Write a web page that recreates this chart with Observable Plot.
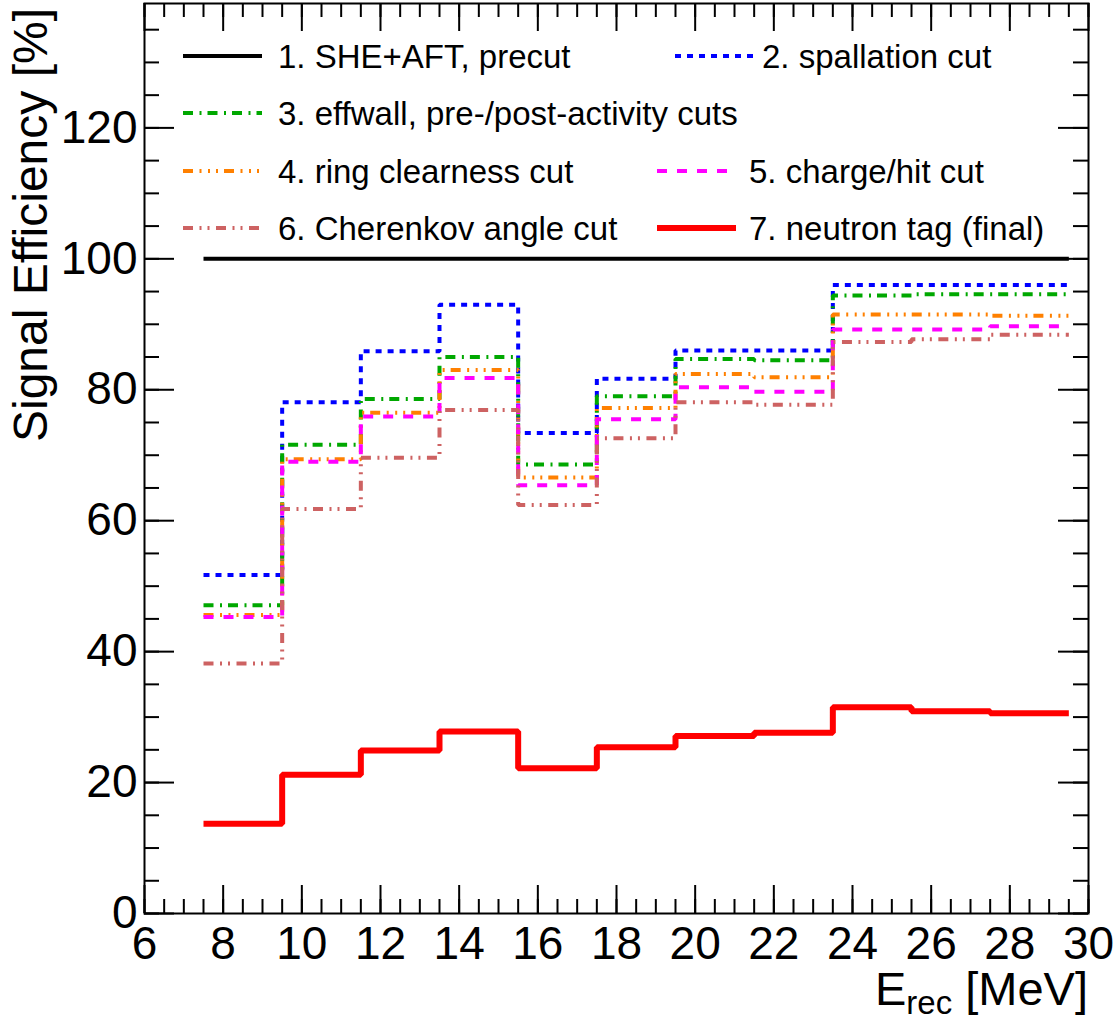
<!DOCTYPE html>
<html><head><meta charset="utf-8">
<script src="https://cdn.jsdelivr.net/npm/d3@7"></script>
<script src="https://cdn.jsdelivr.net/npm/@observablehq/plot@0.6"></script>
<style>body{margin:0;background:#fff} svg{display:block}</style>
</head><body><div id="chart"></div>
<script>
// ---- data ----
const binEdges = [7.5, 9.5, 11.5, 13.5, 15.5, 17.5, 19.5, 21.5, 23.5, 25.5, 27.5, 29.5];
const precut        = [100, 100, 100, 100, 100, 100, 100, 100, 100, 100, 100];
const spallation    = [51.7, 78.1, 85.9, 93.0, 73.4, 81.7, 86.0, 86.0, 96.0, 96.0, 96.0];
const effwall       = [47.1, 71.6, 78.6, 85.0, 68.6, 79.0, 84.7, 84.5, 94.4, 94.6, 94.6];
const ringClearness = [45.6, 69.4, 76.5, 83.0, 66.6, 77.2, 82.4, 81.9, 91.5, 91.5, 91.3];
const chargeHit     = [45.3, 69.0, 75.9, 81.8, 65.4, 75.5, 80.4, 79.7, 89.2, 89.2, 89.7];
const cherenkov     = [38.2, 61.8, 69.6, 76.9, 62.4, 72.6, 78.1, 77.7, 87.3, 87.7, 88.4];
const neutronTag    = [13.7, 21.2, 24.9, 27.8, 22.2, 25.4, 27.1, 27.6, 31.5, 30.9, 30.6];
const seriesLabels = [
  "1. SHE+AFT, precut", "2. spallation cut", "3. effwall, pre-/post-activity cuts",
  "4. ring clearness cut", "5. charge/hit cut", "6. Cherenkov angle cut", "7. neutron tag (final)"
];
const xTicks = [6, 8, 10, 12, 14, 16, 18, 20, 22, 24, 26, 28, 30];
const yTicks = [0, 20, 40, 60, 80, 100, 120];
const xTitle = ["E", "rec", " [MeV]"];
const yTitle = "Signal Efficiency [%]";

// ---- styles ----
const W = 1120, H = 1021, mL = 144, mR = 32, mT = 3, mB = 108;
const innerW = W - mL - mR, innerH = H - mT - mB;
const font = "'Liberation Sans', Arial, Helvetica, sans-serif";
const seriesValues = [precut, spallation, effwall, ringClearness, chargeHit, cherenkov, neutronTag];
const styles = [
  {color: "#000000", dash: null, width: 4},
  {color: "#0000ff", dash: "6,6", width: 4},
  {color: "#00a800", dash: "10,6.5,2,6", width: 4},
  {color: "#ff8000", dash: "10,6.5,2,6.5,2,6,2,6", width: 4},
  {color: "#ff00ff", dash: "10,10", width: 4},
  {color: "#cd6262", dash: "10,6.5,2,6,2,6.5", width: 4},
  {color: "#ff0000", dash: null, width: 6}
];
const xMinor = d3.range(6, 30.0001, 0.5);
const yMinor = d3.range(0, 139, 5);

const marks = [];
// ticks (inside, all four sides)
marks.push(Plot.tickX(xMinor, {x: d => d, insetTop: innerH - 14, stroke: "#000", strokeWidth: 2}));
marks.push(Plot.tickX(xTicks, {x: d => d, insetTop: innerH - 28, stroke: "#000", strokeWidth: 2}));
marks.push(Plot.tickX(xMinor, {x: d => d, insetBottom: innerH - 14, stroke: "#000", strokeWidth: 2}));
marks.push(Plot.tickX(xTicks, {x: d => d, insetBottom: innerH - 28, stroke: "#000", strokeWidth: 2}));
marks.push(Plot.tickY(yMinor, {y: d => d, insetRight: innerW - 15, stroke: "#000", strokeWidth: 2}));
marks.push(Plot.tickY(yTicks, {y: d => d, insetRight: innerW - 30, stroke: "#000", strokeWidth: 2}));
marks.push(Plot.tickY(yMinor, {y: d => d, insetLeft: innerW - 15, stroke: "#000", strokeWidth: 2}));
marks.push(Plot.tickY(yTicks, {y: d => d, insetLeft: innerW - 30, stroke: "#000", strokeWidth: 2}));

// histograms
seriesValues.forEach((vals, i) => {
  const pts = binEdges.map((e, j) => ({x: e, y: vals[Math.min(j, vals.length - 1)]}));
  const s = styles[i];
  marks.push(Plot.lineY(pts, {
    x: "x", y: "y", curve: "step-after",
    stroke: s.color, strokeWidth: s.width, strokeDasharray: s.dash,
    strokeLinejoin: "miter", strokeLinecap: "butt"
  }));
});

marks.push(Plot.frame({stroke: "#000", strokeWidth: 2}));
marks.push(Plot.axisX(xTicks, {tickSize: 0, tickPadding: 13, fontSize: 46, label: null, tickFormat: d => String(d)}));
marks.push(Plot.axisY(yTicks, {tickSize: 0, tickPadding: 7, fontSize: 46, label: null, tickFormat: d => String(d)}));

const chart = Plot.plot({
  width: W, height: H,
  marginLeft: mL, marginRight: mR, marginTop: mT, marginBottom: mB,
  x: {domain: [6, 30], axis: null},
  y: {domain: [0, 139], axis: null},
  style: {fontFamily: font, background: "#fff", color: "#000", overflow: "visible"},
  marks
});
document.getElementById("chart").appendChild(chart);

// ---- titles & legend ----
const svg = d3.select(chart);
// x title
const xt = svg.append("text")
  .attr("x", mL + innerW).attr("y", 1005)
  .attr("text-anchor", "end")
  .attr("font-family", font).attr("font-size", 47).attr("fill", "#000");
xt.append("tspan").text(xTitle[0]);
xt.append("tspan").attr("font-size", 33).attr("dy", 9).text(xTitle[1]);
xt.append("tspan").attr("dy", -9).text(xTitle[2]);
// y title
svg.append("text")
  .attr("transform", "translate(47,8) rotate(-90)")
  .attr("text-anchor", "end")
  .attr("font-family", font).attr("font-size", 48).attr("fill", "#000")
  .text(yTitle);

// legend layout (pixel positions)
const legendLayout = [
  {x1: 183, x2: 262, tx: 278, y: 56},
  {x1: 675, x2: 753, tx: 762, y: 56},
  {x1: 183, x2: 262, tx: 278, y: 113},
  {x1: 183, x2: 262, tx: 278, y: 171},
  {x1: 657, x2: 736, tx: 749, y: 171},
  {x1: 183, x2: 262, tx: 278, y: 228},
  {x1: 657, x2: 736, tx: 749, y: 228}
];
const lg = svg.append("g").attr("text-anchor", "start");
seriesLabels.forEach((lab, i) => {
  const p = legendLayout[i], s = styles[i];
  lg.append("line").attr("x1", p.x1).attr("x2", p.x2).attr("y1", p.y).attr("y2", p.y)
    .attr("stroke", s.color).attr("stroke-width", s.width)
    .attr("stroke-dasharray", s.dash).attr("stroke-linecap", "butt");
  lg.append("text").attr("x", p.tx).attr("y", p.y + 12)
    .attr("text-anchor", "start")
    .attr("font-family", font).attr("font-size", 33).attr("fill", "#000")
    .text(lab);
});
</script>
</body></html>
